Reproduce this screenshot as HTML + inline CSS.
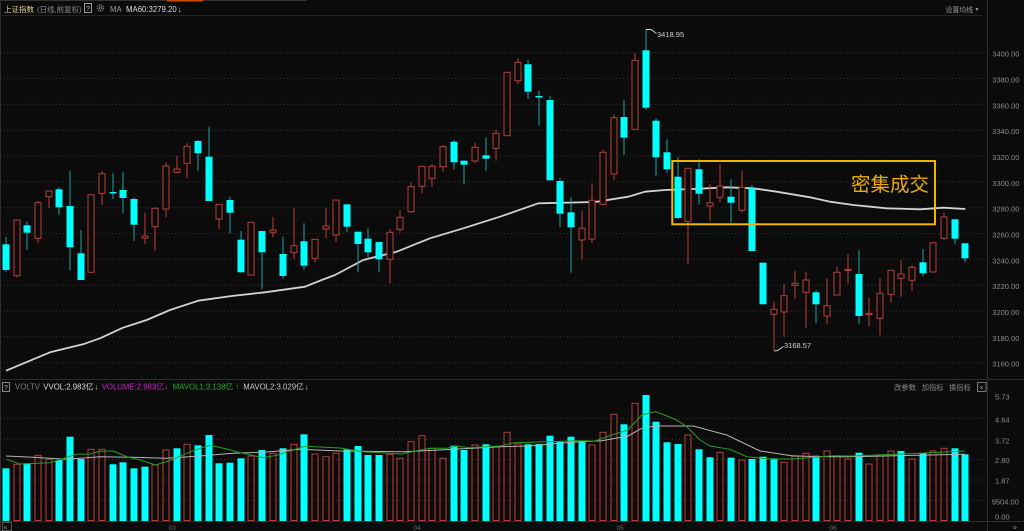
<!DOCTYPE html>
<html><head><meta charset="utf-8"><style>
html,body{margin:0;padding:0;background:#0b0b0b;}
svg{display:block;}
text{font-family:"Liberation Sans","Noto Sans CJK SC",sans-serif;}
.c{fill:#00ffff;}
.r{fill:#0b0b0b;stroke:#bb3d38;stroke-width:1;}
.rv{fill:none;stroke:#bb3d38;stroke-width:1;}
</style></head><body>
<svg width="1024" height="531" viewBox="0 0 1024 531" xmlns="http://www.w3.org/2000/svg">
<rect width="1024" height="531" fill="#0b0b0b"/>
<!-- borders -->
<path d="M0 0.5H307" stroke="#333" stroke-width="1"/>
<path d="M167 0.7H203" stroke="#c84b00" stroke-width="1.6"/>
<path d="M0.5 0V531" stroke="#2e2e2e"/>
<path d="M0 15.5H982" stroke="#222"/>
<path d="M987.5 0V531" stroke="#2e2e2e"/>
<path d="M0 379.5H1024" stroke="#2c2c2c"/>
<path d="M0 521.5H1024" stroke="#2c2c2c"/>
<!-- grid -->
<path d="M0 52.7H986M0 78.5H986M0 104.4H986M0 130.2H986M0 156H986M0 181.9H986M0 207.7H986M0 233.5H986M0 259.3H986M0 285.2H986M0 311H986M0 336.8H986M0 362.7H986M0 418.5H986M0 439H986M0 459.5H986M0 480H986M0 500.5H986" stroke="#353535" stroke-width="1" stroke-dasharray="1 2.5"/>
<!-- header -->
<text x="4" y="12" font-size="7.5" fill="#e3cf8c">上证指数</text>
<text x="37" y="12" font-size="7.5" fill="#8a8a8a">(日线,前复权)</text>
<rect x="84.5" y="3.5" width="7" height="9" fill="none" stroke="#999"/>
<text x="86" y="11" font-size="7" fill="#bbb">?</text>
<circle cx="100.5" cy="8" r="3" fill="none" stroke="#888" stroke-width="1.3" stroke-dasharray="1.2 0.8"/>
<circle cx="100.5" cy="8" r="1" fill="none" stroke="#888" stroke-width="0.8"/>
<text x="110" y="12" font-size="7.8" fill="#999">MA</text>
<text x="126" y="12" font-size="7.8" fill="#dcdcdc">MA60:3279.20</text>
<text x="178" y="12" font-size="7.8" fill="#dcdcdc">↓</text>
<text x="945.5" y="12" font-size="6.9" fill="#999">设置均线</text>
<text x="975.5" y="11" font-size="6" fill="#999">▾</text>
<!-- price labels -->
<g font-size="7.5" fill="#8c8c8c">
<text x="992.3" y="56.7">3400.00</text>
<text x="992.3" y="82.5">3380.00</text>
<text x="992.3" y="108.4">3360.00</text>
<text x="992.3" y="134.2">3340.00</text>
<text x="992.3" y="160">3320.00</text>
<text x="992.3" y="185.9">3300.00</text>
<text x="992.3" y="211.7">3280.00</text>
<text x="992.3" y="237.5">3260.00</text>
<text x="992.3" y="263.3">3240.00</text>
<text x="992.3" y="289.2">3220.00</text>
<text x="992.3" y="315">3200.00</text>
<text x="992.3" y="340.8">3180.00</text>
<text x="992.3" y="366.7">3160.00</text>
</g>
<!-- MA60 -->
<polyline fill="none" stroke="#d2d2d2" stroke-width="1.8" stroke-linejoin="round" points="6,370.7 50,352.3 83,344.3 100,338.3 123,327.7 146.7,320 170,310 198.3,300.7 231.7,296 265,292.3 305,286.7 321.7,280 335,275 363.3,260 396.7,251.7 430,238.3 463.3,228.3 500,216.7 538.3,203.3 595,202 628.3,196.7 645,191.7 665,190 693.3,189 726.7,187.3 753.3,188.3 776.7,191.7 810,197.3 830,201.7 853.3,205 886.7,208.3 920,209.3 943.3,207.7 965.3,209"/>
<!-- cyan wicks -->
<path stroke="#18a5a5" stroke-width="1" fill="none" d="M6 236.7V271.7M27 221.7V250M59 187.3V215M70 170.7V270M81 230V280M113 173.3V199M123 171.7V213.3M134 197.3V241M198 140V170.7M209 126.7V201M230 196.7V233.3M241 231V272.3M262 231V289M283 236.7V279M304 223.3V270M347 204.3V232.3M358 231.7V272.3M368 228.3V257.3M379 242V272.3M454 140V169.3M464 160.7V184.3M486 137.7V170.7M528 60V99M539 90.7V125.7M550 95.7V180.3M560 178.3V227.3M571 197.3V272.7M624 100V155M646 29.3V110M656 118.3V175.7M667 139.3V172.7M678 157.3V219.3M699 159.3V204.3M731 179.3V222.7M752 185V251M763 262.7V304.3M816 290V323.3M859 250V324.3M923 249V276M955 219.3V244.3M965 243.3V262.3"/>
<!-- red wicks -->
<path stroke="#bb3d38" stroke-width="1" fill="none" d="M17 220V277.7M38 201V243.3M49 191V208.3M91 194.7V273.3M102 171V205M145 212.7V244M155 207.3V251M166 162.3V217.3M177 155.7V173.3M187 143.3V178.3M219 204.3V229M273 216.7V237.3M294 208.3V259M315 239.3V262.3M326 208.3V238.3M336 200V242.3M390 229V283.3M400 210V232.7M411 182.3V212.7M422 166.3V193.3M432 164V186.7M443 145V171.7M475 142.7V162.7M496 130V160.7M518 58.3V84.3M582 210.7V259.3M592 183.3V242.7M603 150V204.3M614 114.3V180M635 53.3V129.3M688 168.3V264.3M710 184V221M720 164V202.3M742 170.7V212.7M774 301.7V350M784 284V336.7M795 271V299M806 271.7V327.7M827 278.3V324M837 266.7V295M848 254V283.3M869 297.7V326M880 278.3V335.3M891 270.3V302.7M901 260V296.7M912 265V290.7M944 212.3V240"/>
<!-- cyan bodies -->
<g class="c">
<rect x="2.5" y="244.3" width="7" height="25.7"/>
<rect x="23.5" y="225.3" width="7" height="7.4"/>
<rect x="55.5" y="189.3" width="7" height="18"/>
<rect x="66.5" y="206" width="7" height="41.3"/>
<rect x="77.5" y="253.3" width="7" height="26.7"/>
<rect x="109.5" y="192" width="7" height="1.5"/>
<rect x="119.5" y="190" width="7" height="8"/>
<rect x="130.5" y="199" width="7" height="25.7"/>
<rect x="194.5" y="141" width="7" height="12.3"/>
<rect x="205.5" y="156.7" width="7" height="44.3"/>
<rect x="226.5" y="200" width="7" height="12.7"/>
<rect x="237.5" y="239.7" width="7" height="32.6"/>
<rect x="258.5" y="231" width="7" height="21.3"/>
<rect x="279.5" y="254" width="7" height="22"/>
<rect x="300.5" y="241.3" width="7" height="24.4"/>
<rect x="343.5" y="204.3" width="7" height="22.4"/>
<rect x="354.5" y="231.7" width="7" height="12.3"/>
<rect x="364.5" y="238.7" width="7" height="13.6"/>
<rect x="375.5" y="242" width="7" height="17.3"/>
<rect x="450.5" y="141.7" width="7" height="20.6"/>
<rect x="460.5" y="160.7" width="7" height="4"/>
<rect x="482.5" y="155.3" width="7" height="3.4"/>
<rect x="524.5" y="64.3" width="7" height="27.4"/>
<rect x="535.5" y="96" width="7" height="1.5"/>
<rect x="546.5" y="100" width="7" height="80.3"/>
<rect x="556.5" y="181" width="7" height="32.7"/>
<rect x="567.5" y="212.3" width="7" height="15"/>
<rect x="620.5" y="117" width="7" height="20.7"/>
<rect x="642.5" y="50.3" width="7" height="57.4"/>
<rect x="652.5" y="120.7" width="7" height="36.6"/>
<rect x="663.5" y="152.3" width="7" height="17"/>
<rect x="674.5" y="176.7" width="7" height="41.3"/>
<rect x="695.5" y="169.3" width="7" height="24.4"/>
<rect x="727.5" y="196.7" width="7" height="6"/>
<rect x="748.5" y="188.3" width="7" height="62.7"/>
<rect x="759.5" y="262.7" width="7" height="41.6"/>
<rect x="812.5" y="292.3" width="7" height="12"/>
<rect x="855.5" y="274" width="7" height="42"/>
<rect x="919.5" y="262.3" width="7" height="11"/>
<rect x="951.5" y="219.3" width="7" height="19.4"/>
<rect x="961.5" y="243.3" width="7" height="15"/>
</g>
<!-- red bodies -->
<g class="r">
<rect x="14" y="220" width="6" height="55.7"/>
<rect x="35" y="202.7" width="6" height="35.6"/>
<rect x="46" y="191" width="6" height="5.7"/>
<rect x="88" y="194.7" width="6" height="77.6"/>
<rect x="99" y="173.7" width="6" height="19.6"/>
<rect x="142" y="236" width="6" height="2"/>
<rect x="152" y="208.3" width="6" height="18.4"/>
<rect x="163" y="166" width="6" height="43"/>
<rect x="174" y="169" width="6" height="3.3"/>
<rect x="184" y="146.3" width="6" height="17"/>
<rect x="216" y="204.3" width="6" height="14.7"/>
<rect x="248" y="222.3" width="6" height="52.7"/>
<rect x="270" y="230" width="6" height="2.3"/>
<rect x="291" y="245.7" width="6" height="7"/>
<rect x="312" y="239.3" width="6" height="19"/>
<rect x="323" y="226" width="6" height="3"/>
<rect x="333" y="200" width="6" height="35"/>
<rect x="387" y="232.3" width="6" height="27"/>
<rect x="397" y="217.3" width="6" height="12"/>
<rect x="408" y="186.7" width="6" height="25"/>
<rect x="419" y="166.3" width="6" height="20"/>
<rect x="429" y="166.3" width="6" height="12.4"/>
<rect x="440" y="146.7" width="6" height="20"/>
<rect x="472" y="147.3" width="6" height="13.7"/>
<rect x="493" y="133.3" width="6" height="15"/>
<rect x="504" y="72.3" width="6" height="63.4"/>
<rect x="515" y="62.3" width="6" height="18.4"/>
<rect x="579" y="228.3" width="6" height="11.7"/>
<rect x="589" y="200.3" width="6" height="38.7"/>
<rect x="600" y="152.3" width="6" height="52"/>
<rect x="611" y="117.7" width="6" height="56.3"/>
<rect x="632" y="60.3" width="6" height="69"/>
<rect x="685" y="168.3" width="6" height="53"/>
<rect x="707" y="202.7" width="6" height="3.3"/>
<rect x="717" y="186" width="6" height="11.3"/>
<rect x="739" y="187.3" width="6" height="23"/>
<rect x="771" y="309.3" width="6" height="5"/>
<rect x="781" y="295.7" width="6" height="16.3"/>
<rect x="792" y="283.3" width="6" height="2"/>
<rect x="803" y="280" width="6" height="12.3"/>
<rect x="824" y="305.7" width="6" height="10.3"/>
<rect x="834" y="272.3" width="6" height="22.7"/>
<rect x="845" y="269.3" width="6" height="1.2"/>
<rect x="866" y="313.3" width="6" height="1.2"/>
<rect x="877" y="293.3" width="6" height="25"/>
<rect x="888" y="270.3" width="6" height="24"/>
<rect x="898" y="274" width="6" height="4.3"/>
<rect x="909" y="267.3" width="6" height="13"/>
<rect x="930" y="242.7" width="6" height="29.3"/>
<rect x="941" y="217" width="6" height="21.3"/>
</g>
<!-- annotations -->
<polyline points="646,29.5 651,29.5 656.5,33.5" fill="none" stroke="#cfcfcf" stroke-width="1"/>
<text x="657" y="37" font-size="7.5" fill="#cfcfcf">3418.95</text>
<polyline points="774,351 777.5,350.5 783.5,346.5" fill="none" stroke="#cfcfcf" stroke-width="1"/>
<text x="784" y="348" font-size="7.5" fill="#cfcfcf">3168.57</text>
<!-- yellow box -->
<rect x="672.3" y="161" width="262.7" height="63.3" fill="none" stroke="#f0b400" stroke-width="2"/>
<text x="851" y="191" font-size="19.5" fill="#e8ad00" font-family="'Noto Sans CJK SC','WenQuanYi Zen Hei',sans-serif">密集成交</text>
<!-- volume header -->
<rect x="2.5" y="382.5" width="7" height="9" fill="none" stroke="#888"/>
<text x="4" y="390" font-size="7" fill="#aaa">?</text>
<g font-size="7.8">
<text x="15" y="389.5" fill="#7a7a7a">VOLTV</text>
<text x="43.3" y="389.5" fill="#dcdcdc">VVOL:2.983亿</text>
<text x="94.5" y="389.5" fill="#dcdcdc">↓</text>
<text x="101.7" y="389.5" fill="#cc22cc">VOLUME:2.983亿</text>
<text x="164.5" y="389.5" fill="#cc22cc">↓</text>
<text x="172.7" y="389.5" fill="#22aa22">MAVOL1:3.138亿</text>
<text x="235.5" y="389.5" fill="#22aa22">↑</text>
<text x="243.3" y="389.5" fill="#c8c8c8">MAVOL2:3.029亿</text>
<text x="305" y="389.5" fill="#c8c8c8">↓</text>
</g>
<g font-size="7.3" fill="#888">
<text x="894" y="390">改参数</text>
<text x="921.7" y="390">加指标</text>
<text x="949" y="390">换指标</text>
</g>
<rect x="977.5" y="382.5" width="8.5" height="9" fill="none" stroke="#777"/>
<text x="979.5" y="390" font-size="7" fill="#999">×</text>
<!-- volume labels -->
<g font-size="7.5" fill="#8c8c8c">
<text x="995" y="399.4">5.73</text>
<text x="995" y="422.7">4.64</text>
<text x="995" y="443.7">3.72</text>
<text x="995" y="463">2.80</text>
<text x="995" y="483.7">1.87</text>
<text x="991.7" y="504.4">9504.00</text>
<text x="995" y="519.4">0.00</text>
</g>
<!-- volume cyan -->
<g class="c">
<rect x="2.5" y="468.3" width="7" height="52.7"/>
<rect x="23.5" y="463.3" width="7" height="57.7"/>
<rect x="55.5" y="460" width="7" height="61"/>
<rect x="66.5" y="436.7" width="7" height="84.3"/>
<rect x="77.5" y="459" width="7" height="62"/>
<rect x="109.5" y="464.3" width="7" height="56.7"/>
<rect x="119.5" y="462.3" width="7" height="58.7"/>
<rect x="130.5" y="468.3" width="7" height="52.7"/>
<rect x="141.5" y="466.7" width="7" height="54.3"/>
<rect x="173.5" y="448.3" width="7" height="72.7"/>
<rect x="194.5" y="445.3" width="7" height="75.7"/>
<rect x="205.5" y="435" width="7" height="86"/>
<rect x="215.5" y="463.3" width="7" height="57.7"/>
<rect x="226.5" y="462.7" width="7" height="58.3"/>
<rect x="237.5" y="458.3" width="7" height="62.7"/>
<rect x="258.5" y="450" width="7" height="71"/>
<rect x="279.5" y="448.3" width="7" height="72.7"/>
<rect x="300.5" y="434.3" width="7" height="86.7"/>
<rect x="343.5" y="449.3" width="7" height="71.7"/>
<rect x="354.5" y="446" width="7" height="75"/>
<rect x="364.5" y="455" width="7" height="66"/>
<rect x="375.5" y="455" width="7" height="66"/>
<rect x="450.5" y="445.7" width="7" height="75.3"/>
<rect x="460.5" y="450" width="7" height="71"/>
<rect x="482.5" y="444.3" width="7" height="76.7"/>
<rect x="524.5" y="444.3" width="7" height="76.7"/>
<rect x="535.5" y="444" width="7" height="77"/>
<rect x="546.5" y="435.7" width="7" height="85.3"/>
<rect x="556.5" y="441.7" width="7" height="79.3"/>
<rect x="567.5" y="436.7" width="7" height="84.3"/>
<rect x="578.5" y="440.7" width="7" height="80.3"/>
<rect x="620.5" y="424.3" width="7" height="96.7"/>
<rect x="642.5" y="395" width="7" height="126"/>
<rect x="652.5" y="421.7" width="7" height="99.3"/>
<rect x="663.5" y="442.3" width="7" height="78.7"/>
<rect x="674.5" y="444" width="7" height="77"/>
<rect x="695.5" y="449.3" width="7" height="71.7"/>
<rect x="706.5" y="457.3" width="7" height="63.7"/>
<rect x="727.5" y="457.7" width="7" height="63.3"/>
<rect x="748.5" y="459" width="7" height="62"/>
<rect x="759.5" y="456.7" width="7" height="64.3"/>
<rect x="770.5" y="458.3" width="7" height="62.7"/>
<rect x="812.5" y="455.7" width="7" height="65.3"/>
<rect x="855.5" y="452.7" width="7" height="68.3"/>
<rect x="897.5" y="451" width="7" height="70"/>
<rect x="919.5" y="453.3" width="7" height="67.7"/>
<rect x="951.5" y="448.3" width="7" height="72.7"/>
<rect x="961.5" y="454.3" width="7" height="66.7"/>
</g>
<!-- volume red -->
<g class="rv">
<rect x="14" y="464.3" width="6" height="56.2"/>
<rect x="35" y="455.3" width="6" height="65.2"/>
<rect x="46" y="459.3" width="6" height="61.2"/>
<rect x="88" y="449.3" width="6" height="71.2"/>
<rect x="99" y="449.3" width="6" height="71.2"/>
<rect x="152" y="465" width="6" height="55.5"/>
<rect x="163" y="450" width="6" height="70.5"/>
<rect x="184" y="444.3" width="6" height="76.2"/>
<rect x="248" y="456" width="6" height="64.5"/>
<rect x="270" y="453.3" width="6" height="67.2"/>
<rect x="291" y="444.3" width="6" height="76.2"/>
<rect x="312" y="454" width="6" height="66.5"/>
<rect x="323" y="456.7" width="6" height="63.8"/>
<rect x="333" y="453.3" width="6" height="67.2"/>
<rect x="387" y="454.3" width="6" height="66.2"/>
<rect x="397" y="458.3" width="6" height="62.2"/>
<rect x="408" y="441.7" width="6" height="78.8"/>
<rect x="419" y="435.7" width="6" height="84.8"/>
<rect x="429" y="448.3" width="6" height="72.2"/>
<rect x="440" y="458.3" width="6" height="62.2"/>
<rect x="472" y="445" width="6" height="75.5"/>
<rect x="493" y="446.7" width="6" height="73.8"/>
<rect x="504" y="432.3" width="6" height="88.2"/>
<rect x="515" y="444" width="6" height="76.5"/>
<rect x="589" y="445" width="6" height="75.5"/>
<rect x="600" y="432.3" width="6" height="88.2"/>
<rect x="611" y="414.3" width="6" height="106.2"/>
<rect x="632" y="403.3" width="6" height="117.2"/>
<rect x="685" y="435" width="6" height="85.5"/>
<rect x="717" y="452.3" width="6" height="68.2"/>
<rect x="739" y="460" width="6" height="60.5"/>
<rect x="781" y="462.3" width="6" height="58.2"/>
<rect x="792" y="455.7" width="6" height="64.8"/>
<rect x="803" y="453.3" width="6" height="67.2"/>
<rect x="824" y="451" width="6" height="69.5"/>
<rect x="834" y="455.7" width="6" height="64.8"/>
<rect x="845" y="459" width="6" height="61.5"/>
<rect x="866" y="464" width="6" height="56.5"/>
<rect x="877" y="456" width="6" height="64.5"/>
<rect x="888" y="451" width="6" height="69.5"/>
<rect x="909" y="459" width="6" height="61.5"/>
<rect x="930" y="451" width="6" height="69.5"/>
<rect x="941" y="448.3" width="6" height="72.2"/>
</g>
<!-- volume MAs -->
<polyline fill="none" stroke="#b4b4b4" stroke-width="1" points="6,456 33,457.3 66.7,459.3 100,456.7 133,457.3 166.7,458.3 200,456 233,453.3 266.7,452 300,449.3 340,451 403,451.7 430,450.5 500,446.7 528,446 578,441.7 601.7,440.7 628,436 641.7,428.3 655,426 693.3,426 726.7,435 760,451 793.3,456 830,456.7 850,456.7 965,454.3"/>
<polyline fill="none" stroke="#22a022" stroke-width="1" points="6.7,459.3 20,464 50,462.7 66.7,457.3 76.7,454.3 90,454 100,451.3 113.3,451 126.7,456.7 140,460 155.3,465 170,460.7 186.7,453.3 200,448.3 210,445.3 226.7,449 240,452.7 263.3,457.7 276.7,455.3 293.3,450 304.7,446.3 340,448 363,451.7 401.7,454 416.7,450.7 430,448.3 446.7,448.3 456.7,446 470,447.7 500,446 515,442.7 578,440.7 595,441 611.7,435 628,430 641.7,415 655,411.7 662,414 676.7,420 686.7,426.7 700,440 710,446 730,449.3 746.7,456.7 770,459 793.3,459 830,456 850,456 920,453.3 965,451"/>
<!-- bottom axis -->
<rect x="2.5" y="522.5" width="9" height="8" fill="none" stroke="#555"/>
<text x="3.5" y="529.5" font-size="7" fill="#999">«</text>
<text x="1013" y="529.5" font-size="7" fill="#999">»</text>
<g font-size="6.5" fill="#6a6a6a">
<text x="168.5" y="530">03</text>
<text x="413.5" y="530">04</text>
<text x="616.5" y="530">05</text>
<text x="829.5" y="530">06</text>
</g>
</svg>
</body></html>
